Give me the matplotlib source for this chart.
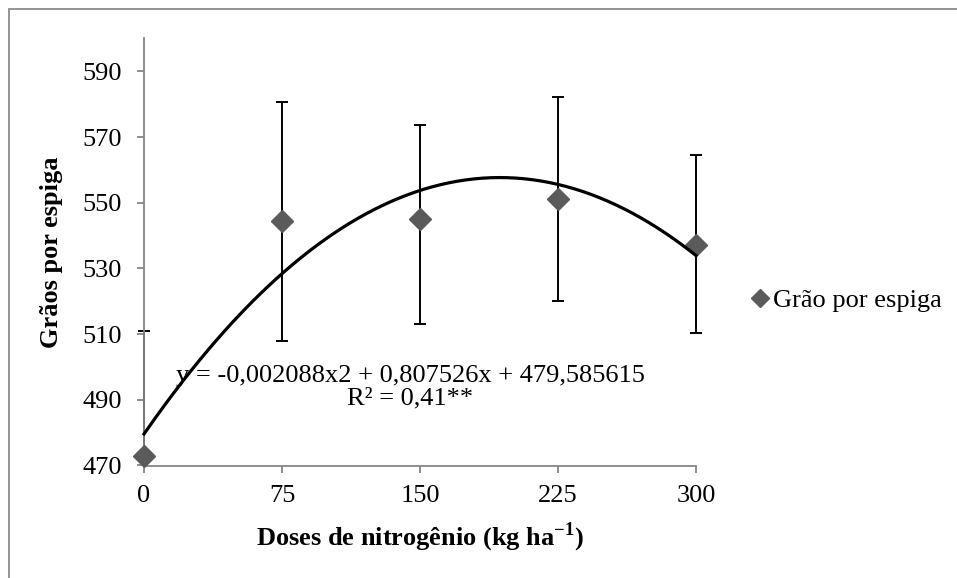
import numpy as np
import matplotlib
matplotlib.use("Agg")
import matplotlib.pyplot as plt
from matplotlib.patches import Rectangle

# Data
doses = [0, 75, 150, 225, 300]
graos = [473.0, 544.3, 544.9, 551.0, 537.2]
err_low = [38.0, 36.4, 31.9, 31.0, 27.0]
err_high = [38.0, 36.4, 28.8, 31.1, 27.2]
# trendline coefficients as printed on the chart
coef = [-0.002088, 0.807526, 479.585615]
yticks = [470, 490, 510, 530, 550, 570, 590]

plt.rcParams['font.family'] = ['Liberation Serif', 'DejaVu Serif']

fig = plt.figure(figsize=(9.57, 5.78), dpi=100)
ax = fig.add_axes([144 / 957, 1 - 465.5 / 578, (696 - 144) / 957, (465.5 - 38.5) / 578])

# chart-area border (only left and top are visible in the crop)
fig.add_artist(Rectangle((9 / 957, -0.1), 1.2, 1.1 - 9 / 578, transform=fig.transFigure,
                         fill=False, edgecolor='#8c8c8c', linewidth=1.3))

# error bars: clip only at the bottom, so the caps at x=300 stay whole
eb = ax.errorbar(doses, graos, yerr=[err_low, err_high], fmt='none', ecolor='black',
                 elinewidth=1.4, capsize=4.5, capthick=1.4, zorder=2)
clip = Rectangle((-0.1, 0), 1.2, 1.2, transform=ax.transAxes)
for art in eb.get_children():
    art.set_clip_path(clip)

ax.plot(doses, graos, linestyle='none', marker='D', markersize=11,
        color='#5a5a5a', zorder=3, clip_on=False, label='Grão por espiga')

# quadratic trendline
xs = np.linspace(0, 300, 200)
ax.plot(xs, np.polyval(coef, xs), color='black', linewidth=2.3, zorder=4, clip_on=False)

ax.set_xlim(0, 300)
ax.set_ylim(470, 600)
ax.set_xticks(doses)
ax.set_yticks(yticks)
ax.tick_params(labelsize=19, colors='#868686', labelcolor='black', length=5, width=1.3)
ax.tick_params(axis='y', pad=11)
ax.tick_params(axis='x', pad=9)
for s in ['top', 'right']:
    ax.spines[s].set_visible(False)
for s in ['left', 'bottom']:
    ax.spines[s].set_color('#868686')
    ax.spines[s].set_linewidth(1.3)

ax.set_xlabel('Doses de nitrogênio (kg ha$^{\\mathregular{-1}}$)', fontsize=19,
              fontweight='bold', labelpad=10)
ax.set_ylabel('Grãos por espiga', fontsize=19, fontweight='bold', labelpad=14)

ax.text((410 - 144) / 552, (465.5 - 387) / 427,
        'y = -0,002088x2 + 0,807526x + 479,585615\nR² = 0,41**',
        transform=ax.transAxes, ha='center', va='center', fontsize=19,
        linespacing=1.05, multialignment='center')

ax.legend(loc='center left', bbox_to_anchor=(1.073, (465.5 - 300) / 427), frameon=False,
          fontsize=19, handletextpad=0.0, handlelength=1.0, markerscale=0.8,
          borderaxespad=0)

fig.savefig('out.png', dpi=100)
